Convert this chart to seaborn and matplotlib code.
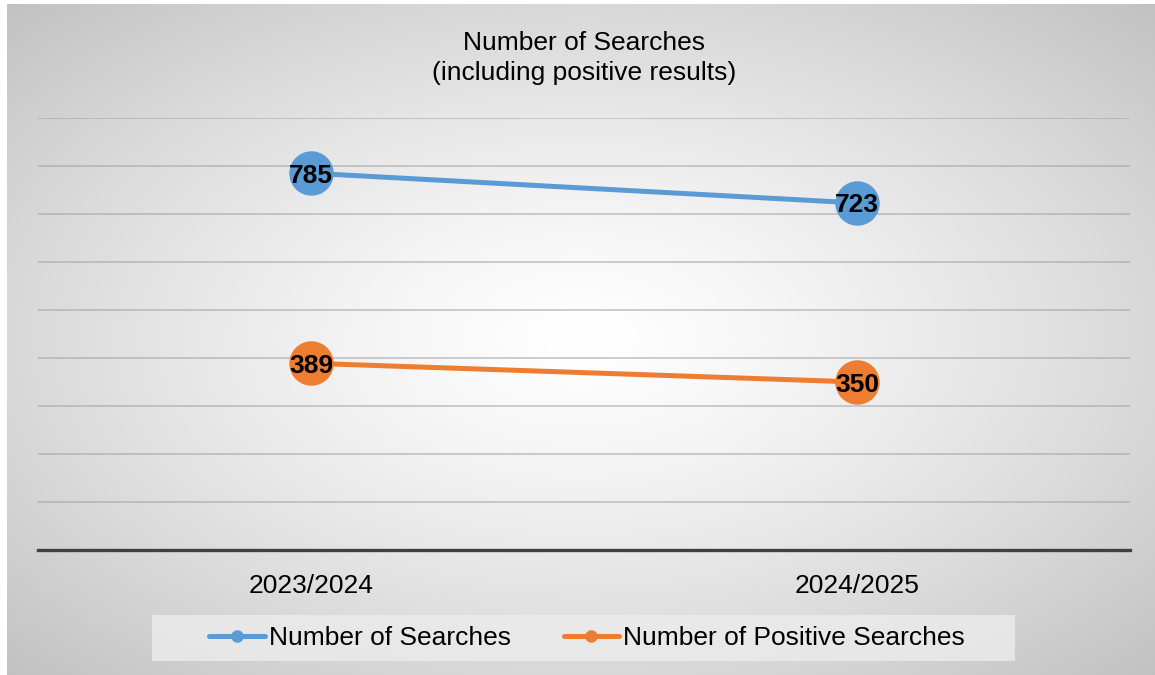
import numpy as np
import pandas as pd
import seaborn as sns
import matplotlib
matplotlib.use("Agg")
from matplotlib import pyplot as plt
from matplotlib.lines import Line2D
from matplotlib.patches import Rectangle

seasons = ["2023/2024", "2024/2025"]
searches = [785, 723]
positive = [389, 350]
series_names = ["Number of Searches", "Number of Positive Searches"]
colors = ["#5B9BD5", "#ED7D31"]

df = pd.DataFrame({
    "season": seasons * 2,
    "value": searches + positive,
    "series": [series_names[0]] * 2 + [series_names[1]] * 2,
})

sns.set_style("white")
plt.rcParams["font.family"] = ["Liberation Sans", "DejaVu Sans"]
plt.rcParams["text.color"] = "black"
fs = 19

W, H = 1155, 675
fig = plt.figure(figsize=(W / 100, H / 100), dpi=100)

# radial gradient chart background
bg = fig.add_axes([7 / W, 0, 1 - 7 / W, 1 - 4 / H])
yy, xx = np.mgrid[0:1:300j, 0:1:500j]
r = np.sqrt(((xx - 0.5) / 0.5) ** 2 + ((yy - 0.5) / 0.5) ** 2) / np.sqrt(2)
g = 1 - 0.24 * np.clip(r, 0, 1) ** 1.3
bg.imshow(np.dstack([g, g, g]), aspect="auto", extent=[0, 1, 0, 1], origin="lower")
bg.set_axis_off()

ax = fig.add_axes([38 / W, 1 - 550 / H, (1130 - 38) / W, (550 - 118) / H])
ax.set_facecolor("none")

sns.lineplot(data=df, x="season", y="value", hue="series", palette=colors,
             marker="o", markersize=32, linewidth=3.6, markeredgewidth=0,
             legend=False, ax=ax, zorder=3)

for vals in (searches, positive):
    for i, v in enumerate(vals):
        ax.text(i, v, str(v), ha="center", va="center_baseline", fontsize=fs,
                fontweight="bold", color="black", zorder=5)

ax.set_xlim(-0.5, 1.5)
ax.set_ylim(0, 900)
ax.set_yticks(np.arange(0, 901, 100))
ax.yaxis.grid(True, color="#a0a0a0", alpha=0.6, linewidth=1.2)
ax.set_axisbelow(True)
ax.tick_params(axis="y", left=False, labelleft=False)
ax.tick_params(axis="x", length=0, pad=17, labelsize=fs, labelcolor="black")
for s in ("top", "right", "left"):
    ax.spines[s].set_visible(False)
ax.spines["bottom"].set_color("#404040")
ax.spines["bottom"].set_linewidth(2.4)
ax.set_xlabel("")
ax.set_ylabel("")

fig.text(584 / W, 1 - 58 / H, "Number of Searches\n(including positive results)",
         ha="center", va="center", fontsize=fs, linespacing=1.35, color="black")

# legend box
fig.patches.append(Rectangle((152 / W, 1 - 661 / H), (1015 - 152) / W, 46 / H,
                             transform=fig.transFigure, facecolor="#ebebeb",
                             edgecolor="none", alpha=0.85, zorder=1))
handles = [Line2D([], [], color=c, linewidth=3.6, marker="o", markersize=8)
           for c in colors]
leg = fig.legend(handles, series_names, loc="center", ncol=2,
                 bbox_to_anchor=(587 / W, 1 - 638 / H), frameon=False,
                 fontsize=fs, handlelength=2.12, handletextpad=0.15,
                 columnspacing=2.0, labelcolor="black")

fig.savefig("out.png", dpi=100)
